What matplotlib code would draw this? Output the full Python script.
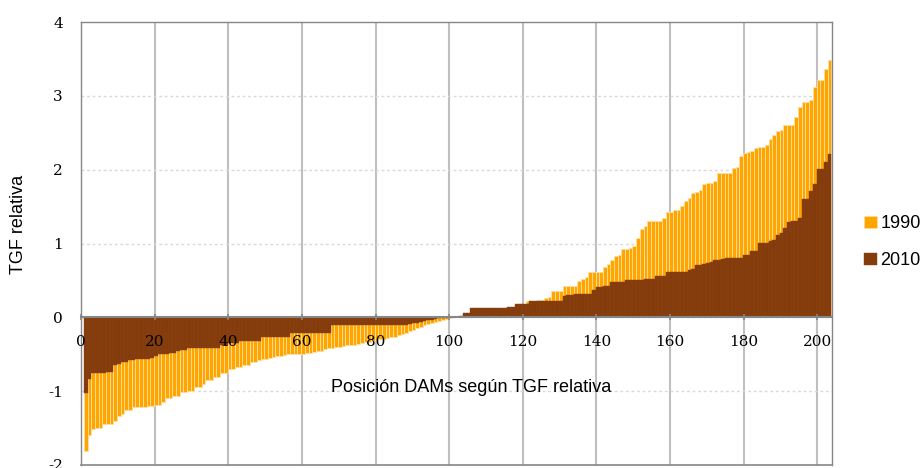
import numpy as np
import matplotlib
matplotlib.use("Agg")
import matplotlib.pyplot as plt

plt.rcParams['font.family'] = ['Liberation Sans', 'DejaVu Sans']
plt.rcParams['axes.unicode_minus'] = False

# TGF relativa, each year sorted on its own (203 DAMs)
tgf_1990 = [
    -1.81, -1.60, -1.51, -1.50, -1.50, -1.45, -1.44, -1.44, -1.40, -1.33,
    -1.31, -1.25, -1.25, -1.21, -1.21, -1.21, -1.21, -1.20, -1.20, -1.19,
    -1.19, -1.15, -1.09, -1.09, -1.06, -1.06, -1.01, -1.01, -1.00, -1.00,
    -0.95, -0.95, -0.90, -0.85, -0.85, -0.81, -0.81, -0.75, -0.75, -0.70,
    -0.70, -0.67, -0.67, -0.65, -0.65, -0.60, -0.60, -0.58, -0.56, -0.56,
    -0.55, -0.54, -0.53, -0.52, -0.51, -0.50, -0.50, -0.50, -0.49, -0.49,
    -0.48, -0.48, -0.47, -0.46, -0.45, -0.43, -0.42, -0.41, -0.40, -0.40,
    -0.39, -0.38, -0.38, -0.37, -0.36, -0.35, -0.34, -0.33, -0.32, -0.31,
    -0.30, -0.29, -0.28, -0.27, -0.26, -0.24, -0.23, -0.21, -0.19, -0.17,
    -0.15, -0.13, -0.11, -0.09, -0.07, -0.06, -0.05, -0.03, -0.02, -0.01,
    0.00, 0.01, 0.02, 0.03, 0.04, 0.05, 0.06, 0.07, 0.08, 0.09,
    0.10, 0.10, 0.11, 0.11, 0.12, 0.13, 0.14, 0.15, 0.16, 0.17,
    0.22, 0.22, 0.22, 0.23, 0.24, 0.26, 0.28, 0.35, 0.35, 0.35,
    0.42, 0.43, 0.43, 0.43, 0.49, 0.52, 0.54, 0.61, 0.62, 0.62,
    0.62, 0.68, 0.72, 0.77, 0.83, 0.85, 0.92, 0.92, 0.94, 0.96,
    1.07, 1.19, 1.24, 1.31, 1.31, 1.31, 1.31, 1.35, 1.42, 1.42,
    1.46, 1.46, 1.51, 1.57, 1.62, 1.69, 1.70, 1.72, 1.81, 1.82,
    1.82, 1.84, 1.95, 1.96, 1.96, 1.96, 2.02, 2.03, 2.19, 2.22,
    2.24, 2.25, 2.30, 2.31, 2.31, 2.33, 2.42, 2.47, 2.53, 2.54,
    2.61, 2.61, 2.61, 2.72, 2.85, 2.92, 2.92, 2.94, 3.12, 3.22,
    3.22, 3.37, 3.48,
]

tgf_2010 = [
    -1.02, -0.83, -0.76, -0.76, -0.76, -0.76, -0.74, -0.74, -0.65, -0.63,
    -0.60, -0.60, -0.58, -0.58, -0.57, -0.57, -0.57, -0.57, -0.55, -0.52,
    -0.49, -0.49, -0.49, -0.48, -0.48, -0.46, -0.44, -0.44, -0.42, -0.42,
    -0.42, -0.41, -0.41, -0.41, -0.41, -0.41, -0.41, -0.38, -0.38, -0.35,
    -0.35, -0.35, -0.32, -0.32, -0.32, -0.32, -0.32, -0.32, -0.27, -0.27,
    -0.27, -0.26, -0.26, -0.26, -0.26, -0.26, -0.21, -0.21, -0.21, -0.21,
    -0.21, -0.21, -0.21, -0.21, -0.21, -0.21, -0.21, -0.11, -0.11, -0.11,
    -0.11, -0.11, -0.11, -0.11, -0.11, -0.11, -0.11, -0.11, -0.11, -0.11,
    -0.11, -0.11, -0.11, -0.11, -0.11, -0.11, -0.11, -0.10, -0.09, -0.08,
    -0.07, -0.06, -0.05, -0.04, -0.03, -0.02, -0.01, -0.01, -0.01, 0.00,
    0.00, 0.00, 0.02, 0.06, 0.06, 0.12, 0.12, 0.12, 0.12, 0.12,
    0.12, 0.12, 0.12, 0.12, 0.12, 0.14, 0.14, 0.18, 0.18, 0.18,
    0.18, 0.22, 0.22, 0.22, 0.22, 0.22, 0.22, 0.22, 0.22, 0.22,
    0.29, 0.30, 0.30, 0.31, 0.31, 0.31, 0.31, 0.31, 0.37, 0.41,
    0.41, 0.43, 0.43, 0.48, 0.48, 0.48, 0.48, 0.51, 0.51, 0.51,
    0.51, 0.51, 0.52, 0.52, 0.52, 0.56, 0.56, 0.56, 0.61, 0.61,
    0.61, 0.61, 0.61, 0.62, 0.64, 0.65, 0.71, 0.71, 0.72, 0.74,
    0.75, 0.77, 0.77, 0.79, 0.80, 0.81, 0.81, 0.81, 0.81, 0.85,
    0.85, 0.90, 0.90, 1.01, 1.01, 1.01, 1.03, 1.05, 1.11, 1.14,
    1.21, 1.29, 1.31, 1.31, 1.35, 1.60, 1.60, 1.71, 1.81, 2.01,
    2.01, 2.11, 2.21,
]

x_ticks = [0, 20, 40, 60, 80, 100, 120, 140, 160, 180, 200]
y_ticks = [-2, -1, 0, 1, 2, 3, 4]

pos = np.arange(len(tgf_1990)) + 1.3

fig = plt.figure(figsize=(9.22, 4.68), dpi=100)
ax = fig.add_axes([81 / 922, 3 / 468, 751 / 922, 443 / 468])

ax.bar(pos, tgf_1990, width=1.0, color='#FFA500', edgecolor='#FFDFA0',
       linewidth=0.6, zorder=1.5, label='1990')
ax.bar(pos, tgf_2010, width=1.0, color='#843C0C', edgecolor='#8A4214',
       linewidth=0.3, zorder=1.6, label='2010')

ax.set_xlim(0, 204)
ax.set_ylim(-2, 4)
ax.set_xticks(x_ticks)
ax.set_yticks(y_ticks)

# grid behind the bars, axis (ticks + labels) in front
ax.set_axisbelow(False)
for xv in x_ticks[1:]:
    ax.axvline(xv, color='#BFBFBF', linewidth=1.5, zorder=1)
for yv in y_ticks[1:-1]:
    ax.axhline(yv, color='#D9D9D9', linestyle=(0, (2, 2)), linewidth=1, zorder=1)

for side in ['left', 'top', 'right']:
    ax.spines[side].set_color('#868686')
    ax.spines[side].set_linewidth(1)
ax.spines['bottom'].set_position(('data', 0))
ax.spines['bottom'].set_color('#868686')
ax.spines['bottom'].set_linewidth(1.5)
ax.axhline(-2, color='#868686', linewidth=1.2, clip_on=False, zorder=3)

ax.tick_params(axis='x', direction='inout', length=5, width=1.2,
               color='#868686', pad=10)
ax.tick_params(axis='y', length=0, pad=13)
for lab in ax.get_xticklabels() + ax.get_yticklabels():
    lab.set_fontfamily('DejaVu Serif')
    lab.set_fontsize(11)

ax.set_xlabel('Posición DAMs según TGF relativa', fontsize=13, va='center')
ax.xaxis.set_label_coords(0.519, 0.176)
ax.set_ylabel('TGF relativa', fontsize=13, va='center')
ax.yaxis.set_label_coords(-0.083, 0.542)

ax.legend(loc='center left', bbox_to_anchor=(864 / 922, 0.482),
          bbox_transform=fig.transFigure, frameon=False, fontsize=13,
          handlelength=0.7, handleheight=0.7, handletextpad=0.2,
          labelspacing=1.1, borderpad=0, borderaxespad=0)

fig.savefig('out.png', dpi=100)
